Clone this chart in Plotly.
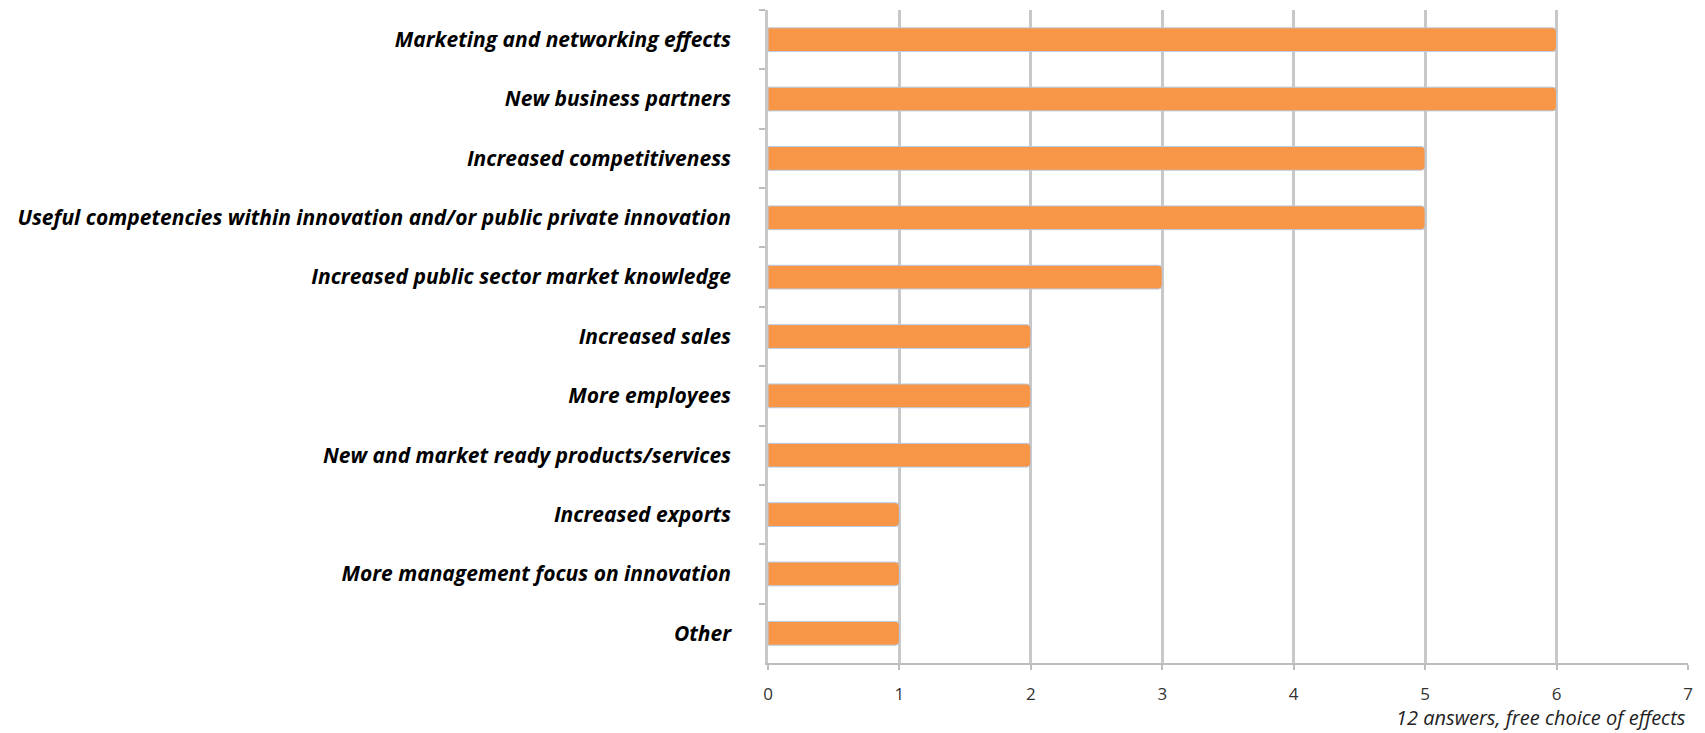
import plotly.graph_objects as go

effects = [
    "Marketing and networking effects",
    "New business partners",
    "Increased competitiveness",
    "Useful competencies within innovation and/or public private innovation",
    "Increased public sector market knowledge",
    "Increased sales",
    "More employees",
    "New and market ready products/services",
    "Increased exports",
    "More management focus on innovation",
    "Other",
]
counts = [6, 6, 5, 5, 3, 2, 2, 2, 1, 1, 1]
x_ticks = [0, 1, 2, 3, 4, 5, 6, 7]

label_font = "Open Sans, Carlito, Calibri, sans-serif"

fig = go.Figure()
fig.add_trace(go.Bar(
    x=counts,
    y=effects,
    orientation="h",
    marker=dict(
        color="#F79646",
        line=dict(color="#B8CCE4", width=1),
        cornerradius=4,
    ),
    width=0.4,
    hoverinfo="x+y",
))

fig.update_layout(
    width=1705,
    height=733,
    margin=dict(l=768, r=17, t=10, b=70),
    paper_bgcolor="white",
    plot_bgcolor="white",
    showlegend=False,
    xaxis=dict(
        range=[0, 7],
        tickvals=x_ticks,
        ticktext=[str(v) for v in x_ticks],
        showgrid=True,
        gridcolor="#C8C8C8",
        gridwidth=2.5,
        zeroline=False,
        showline=True,
        linecolor="#BDBDBD",
        linewidth=2,
        ticks="outside",
        ticklen=5,
        tickwidth=2,
        tickcolor="#BDBDBD",
        ticklabelstandoff=10,
        tickfont=dict(family=label_font, size=17, color="#333333"),
    ),
    yaxis=dict(
        autorange="reversed",
        showgrid=False,
        showline=True,
        linecolor="#C8C8C8",
        linewidth=2.5,
        ticks="outside",
        tickson="boundaries",
        ticklen=6,
        tickwidth=2,
        tickcolor="#BDBDBD",
        ticklabelstandoff=30,
        tickfont=dict(family=label_font, size=21, color="#000000",
                      weight="bold", style="italic"),
    ),
    annotations=[dict(
        text="12 answers, free choice of effects",
        xref="paper", yref="paper",
        x=1.0, y=-0.083,
        xanchor="right", yanchor="middle",
        showarrow=False,
        font=dict(family=label_font, size=20, color="#222222", style="italic"),
    )],
)

fig.write_html("out.html")
